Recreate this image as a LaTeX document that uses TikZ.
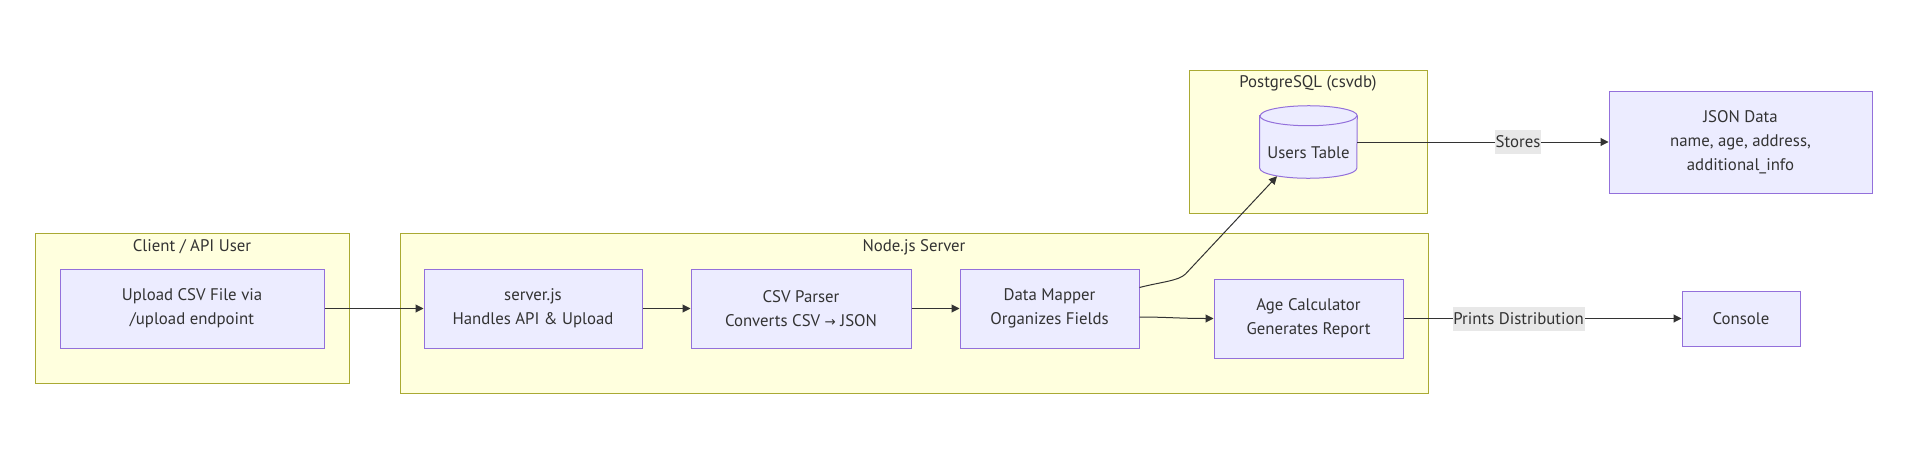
\documentclass[tikz,border=0pt]{standalone}
\usepackage{fontspec}
\setmainfont{PT Sans}
\newfontfamily\arrowfont{DejaVu Sans}
\usetikzlibrary{arrows.meta,calc}
\definecolor{nodefill}{HTML}{ECECFF}
\definecolor{nodeline}{HTML}{9370DB}
\definecolor{clusfill}{HTML}{FFFFDE}
\definecolor{clusline}{HTML}{AAAA33}
\definecolor{edgecol}{HTML}{333333}
\definecolor{txtcol}{HTML}{333333}
\definecolor{lblbg}{HTML}{E8E8E8}
\begin{document}
\begin{tikzpicture}[x=0.75pt,y=-0.75pt,
  font=\fontsize{12.6}{18}\selectfont, text=txtcol,
  box/.style={draw=nodeline, fill=nodefill, line width=0.75pt, align=center, inner sep=0pt},
  clus/.style={draw=clusline, fill=clusfill, line width=0.75pt},
  ctitle/.style={inner sep=0pt},
  conn/.style={draw=edgecol, line width=0.75pt, -{Triangle[length=6pt,width=6pt]}},
  elabel/.style={fill=lblbg, text=txtcol, inner xsep=0.5pt, inner ysep=0pt, minimum height=18pt}
]
\useasboundingbox (0,0) rectangle (1920,450);
% clusters
\draw[clus] (35,233) rectangle (349,383);
\node[ctitle] (tclient) at (192,247) {Client / API User};
\draw[clus] (400,233) rectangle (1428,393);
\node[ctitle] (tnode) at (914,247) {Node.js Server};
\draw[clus] (1189,70) rectangle (1427,213);
\node[ctitle] (tpg) at (1308,83) {PostgreSQL (csvdb)};
% nodes
\node[box, minimum width=198pt, minimum height=59.25pt] (up) at (192,308.5) {Upload CSV File via\\/upload endpoint};
\node[box, minimum width=163.5pt, minimum height=59.25pt] (sv) at (533,308.5) {server.js\\Handles API \& Upload};
\node[box, minimum width=165pt, minimum height=59.25pt] (csv) at (801,308.5) {CSV Parser\\Converts CSV {\arrowfont\fontsize{10}{18}\selectfont →} JSON};
\node[box, minimum width=134.25pt, minimum height=59.25pt] (dm) at (1049.5,308.5) {Data Mapper\\Organizes Fields};
\node[box, minimum width=141.75pt, minimum height=59.25pt] (ac) at (1308.5,318.5) {Age Calculator\\Generates Report};
\node[box, minimum width=88.5pt, minimum height=41.25pt] (co) at (1741,318.5) {Console};
\node[box, minimum width=197.25pt, minimum height=76.5pt] (js) at (1740.5,142) {JSON Data\\name, age, address,\\additional\_info};
% cylinder
\node[minimum width=72.75pt, minimum height=54pt, inner sep=0pt] (ut) at (1308.5,142) {};
\draw[draw=nodeline, fill=nodefill, line width=0.75pt]
  ($(ut.north west)+(0,10)$) -- ($(ut.south west)+(0,-10)$)
  arc[start angle=180, end angle=360, x radius=36.375pt, y radius=7.5pt]
  -- ($(ut.north east)+(0,10)$)
  arc[start angle=0, end angle=180, x radius=36.375pt, y radius=7.5pt] -- cycle;
\draw[draw=nodeline, line width=0.75pt]
  ($(ut.north west)+(0,10)$) arc[start angle=180, end angle=360, x radius=36.375pt, y radius=7.5pt];
\node[inner sep=0pt] (utl) at ($(ut.center)+(0,11)$) {Users Table};
% edges
\draw[conn] (up) -- (sv);
\draw[conn] (sv) -- (csv);
\draw[conn] (csv) -- (dm);
\draw[conn] ($(dm.east)+(0,-21)$) .. controls ($(dm.east)+(21,-26.5)$) and ($(dm.east)+(39,-27.5)$) .. ($(dm.east)+(46,-34.5)$) -- ($(ut.south)+(-31.5,-2)$);
\draw[conn] ($(dm.east)+(0,8.5)$) .. controls ($(dm.east)+(26,8.5)$) and ($(dm.east)+(41,10)$) .. (ac.west);
\draw[conn] (ut.east) -- node[elabel, pos=0.64] (lst) {Stores} (js.west);
\draw[conn] (ac.east) -- node[elabel, pos=0.414] (lpd) {Prints Distribution} (co.west);
\end{tikzpicture}
\end{document}
